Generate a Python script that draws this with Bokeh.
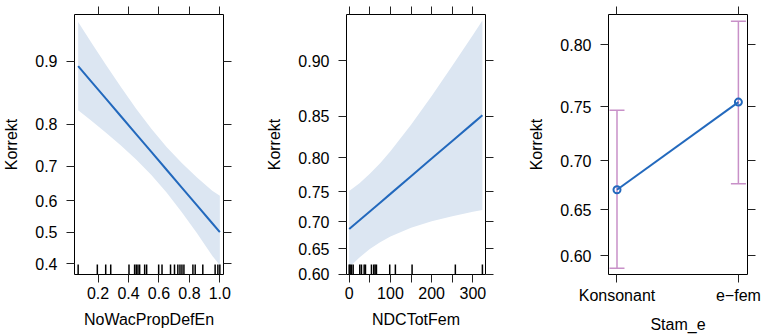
import numpy as np
from bokeh.plotting import figure
from bokeh.layouts import row
from bokeh.models import FixedTicker, LinearAxis, Whisker, TeeHead, ColumnDataSource, Range1d
from bokeh.embed import file_html
from bokeh.resources import INLINE

# ---------------- data ----------------
# Panel 1: NoWacPropDefEn
x1 = [0.069, 0.15, 0.25, 0.35, 0.45, 0.55, 0.65, 0.75, 0.85, 0.95, 1.0]
fit1 = [0.8942, 0.8753, 0.8480, 0.8161, 0.7792, 0.7371, 0.6904, 0.6394, 0.5850, 0.5285, 0.5000]
upper1 = [0.9371, 0.9210, 0.8962, 0.8659, 0.8303, 0.7905, 0.7494, 0.7085, 0.6687, 0.6299, 0.6150]
lower1 = [0.8274, 0.8086, 0.7828, 0.7531, 0.7180, 0.6757, 0.6246, 0.5639, 0.4962, 0.4248, 0.3950]
rug1 = [0.069, 0.195, 0.250, 0.283, 0.403, 0.440, 0.451, 0.462, 0.473, 0.506, 0.519,
        0.598, 0.620, 0.676, 0.702, 0.724, 0.738, 0.751, 0.764, 0.823, 0.838, 0.888,
        0.969, 0.987, 1.0]
xticks1 = [0.2, 0.4, 0.6, 0.8, 1.0]
xlabels1 = ["0.2", "0.4", "0.6", "0.8", "1.0"]
yticks1 = [0.4, 0.5, 0.6, 0.7, 0.8, 0.9]
ylabels1 = ["0.4", "0.5", "0.6", "0.7", "0.8", "0.9"]

# Panel 2: NDCTotFem
x2 = [0, 25, 50, 75, 100, 150, 200, 250, 300, 323]
fit2 = [0.6870, 0.7026, 0.7179, 0.7326, 0.7468, 0.7738, 0.7986, 0.8214, 0.8420, 0.8508]
upper2 = [0.7514, 0.7634, 0.7772, 0.7923, 0.8083, 0.8405, 0.8703, 0.8962, 0.9180, 0.9266]
lower2 = [0.6144, 0.6337, 0.6499, 0.6630, 0.6736, 0.6894, 0.7008, 0.7097, 0.7172, 0.7203]
rug2 = [0, 2.4, 5.6, 9.7, 25.7, 29.8, 36.3, 39.5, 54, 59.6, 62.9, 66.1, 98.3, 112,
        152.5, 257.4, 323]
xticks2 = [0, 100, 200, 300]
xminor2 = [50, 150, 250]
xlabels2 = ["0", "100", "200", "300"]
yticks2 = [0.60, 0.65, 0.70, 0.75, 0.80, 0.85, 0.90]
ylabels2 = ["0.60", "0.65", "0.70", "0.75", "0.80", "0.85", "0.90"]

# Panel 3: Stam_e
cats3 = ["Konsonant", "e\u2212fem"]
fit3 = [0.671, 0.754]
upper3 = [0.747, 0.817]
lower3 = [0.586, 0.677]
yticks3 = [0.60, 0.65, 0.70, 0.75, 0.80]
ylabels3 = ["0.60", "0.65", "0.70", "0.75", "0.80"]

FONT = "Liberation Sans"
BLUE = "#2369BD"
BAND = "#DCE6F2"
ERR = "#C890C8"
TICK = "#222222"


def logit(p):
    p = np.asarray(p, dtype=float)
    return np.log(p / (1 - p))


def style_axis(ax):
    ax.axis_line_color = None
    ax.major_tick_out = 8
    ax.major_tick_in = 0
    ax.minor_tick_out = 8
    ax.minor_tick_in = 0
    ax.major_tick_line_color = TICK
    ax.minor_tick_line_color = TICK
    ax.major_label_text_font = FONT
    ax.major_label_text_color = "black"
    ax.major_label_text_font_size = "16px"
    ax.axis_label_text_font = FONT
    ax.axis_label_text_font_style = "normal"
    ax.axis_label_text_font_size = "16px"
    ax.axis_label_text_color = "black"


def make_fig(xr, yr, left, fw, right, xt, xminor, xlab, yt, ylab, xtitle):
    p = figure(frame_width=fw, frame_height=260, min_border_left=left, min_border_right=right,
               min_border_top=14, min_border_bottom=61, x_range=xr, y_range=yr,
               output_backend="svg", toolbar_location=None, x_axis_type=None, y_axis_type=None)
    p.outline_line_color = "black"
    p.outline_line_width = 1
    p.xgrid.visible = False
    p.ygrid.visible = False
    ylog = [float(v) for v in logit(yt)]
    # bottom (labelled)
    bx = LinearAxis(ticker=FixedTicker(ticks=xt, minor_ticks=xminor),
                    major_label_overrides=xlab, axis_label=xtitle)
    style_axis(bx)
    bx.major_label_standoff = 4
    bx.axis_label_standoff = 9
    p.add_layout(bx, "below")
    # top (ticks only, drawn as minor ticks so no labels exist)
    tx = LinearAxis(ticker=FixedTicker(ticks=[], minor_ticks=list(xt) + list(xminor)))
    style_axis(tx)
    p.add_layout(tx, "above")
    # left (labelled)
    ly = LinearAxis(ticker=FixedTicker(ticks=ylog),
                    major_label_overrides={v: s for v, s in zip(ylog, ylab)}, axis_label="Korrekt")
    style_axis(ly)
    ly.major_label_standoff = 9
    ly.axis_label_standoff = 12
    p.add_layout(ly, "left")
    # right (ticks only)
    ry = LinearAxis(ticker=FixedTicker(ticks=[], minor_ticks=ylog))
    style_axis(ry)
    p.add_layout(ry, "right")
    return p


def add_rug(p, rug, yr):
    y0 = yr.start
    y1 = yr.start + (yr.end - yr.start) * 10 / 260
    p.segment(x0=rug, x1=rug, y0=[y0] * len(rug), y1=[y1] * len(rug),
              line_color="black", line_width=1.5)


# ---------------- panel 1 ----------------
yr1 = Range1d(float(logit(0.367)), float(logit(0.9426)))
p1 = make_fig(Range1d(0.045, 1.024), yr1, 73, 149, 40, xticks1, [],
              {float(v): s for v, s in zip(xticks1, xlabels1)}, yticks1, ylabels1, "NoWacPropDefEn")
p1.varea(x=x1, y1=logit(lower1), y2=logit(upper1), fill_color=BAND)
p1.line(x=x1, y=logit(fit1), line_color=BLUE, line_width=2)
add_rug(p1, rug1, yr1)

# ---------------- panel 2 ----------------
yr2 = Range1d(float(logit(0.5999)), float(logit(0.930)))
p2 = make_fig(Range1d(-6.5, 330.5), yr2, 83, 139, 33, xticks2, xminor2,
              {v: s for v, s in zip(xticks2, xlabels2)}, yticks2, ylabels2, "NDCTotFem")
p2.varea(x=x2, y1=logit(lower2), y2=logit(upper2), fill_color=BAND)
p2.line(x=x2, y=logit(fit2), line_color=BLUE, line_width=2)
add_rug(p2, rug2, yr2)

# ---------------- panel 3 ----------------
pos3 = [i + 1 for i in range(len(cats3))]
yr3 = Range1d(float(logit(0.579)), float(logit(0.8216)))
p3 = make_fig(Range1d(0.93, 2.075), yr3, 90, 139, 15, pos3, [],
              {v: s for v, s in zip(pos3, cats3)}, yticks3, ylabels3, "Stam_e")
src3 = ColumnDataSource(dict(x=pos3, upper=logit(upper3), lower=logit(lower3)))
wh = Whisker(source=src3, base="x", upper="upper", lower="lower",
             line_color=ERR, line_width=1.5,
             upper_head=TeeHead(size=15, line_color=ERR, line_width=1.5),
             lower_head=TeeHead(size=15, line_color=ERR, line_width=1.5))
p3.add_layout(wh)
p3.line(x=pos3, y=logit(fit3), line_color=BLUE, line_width=2)
p3.scatter(x=pos3, y=logit(fit3), marker="circle", size=7, fill_color=None,
           line_color=BLUE, line_width=2)

layout = row(p1, p2, p3, spacing=0)
open("out.html", "w").write(file_html(layout, INLINE))
